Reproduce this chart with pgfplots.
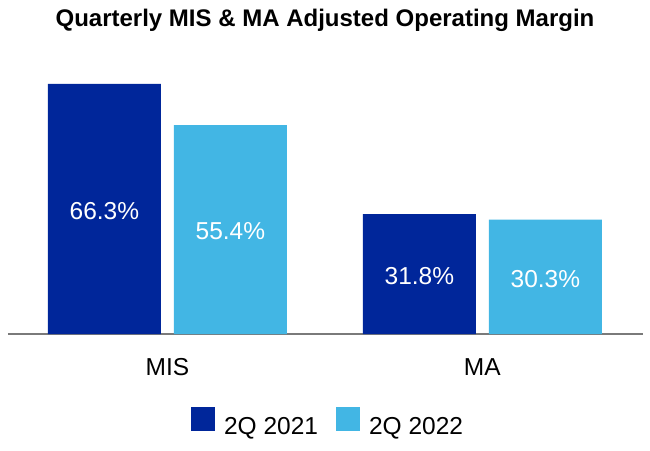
\documentclass[border=0pt]{standalone}
\usepackage{fontspec}
\setmainfont{Liberation Sans}
\usepackage{pgfplots}
\pgfplotsset{compat=1.18}
\definecolor{darkblue}{HTML}{00269A}
\definecolor{lightblue}{HTML}{42B6E4}
\definecolor{axisgray}{HTML}{7A7A7A}
\newcommand{\bigfont}{\fontsize{24.5}{29}\selectfont}
\begin{document}
\begin{tikzpicture}
\path[use as bounding box] (-8pt,-116pt) rectangle (642pt,334pt);
\begin{axis}[
  at={(0pt,0pt)}, anchor=south west,
  scale only axis, width=635pt, height=264pt,
  xmin=-0.506, xmax=1.51, ymin=0, ymax=70,
  ybar=13pt, bar width=113pt,
  axis x line=bottom, axis y line=none,
  x axis line style={-, draw=axisgray, line width=1.6pt},
  xtick={0,1}, xticklabels={MIS,MA}, major tick length=0pt,
  xticklabel style={font=\bigfont, yshift=-21pt},
  visualization depends on={rawy \as \rawy},
  nodes near coords={\pgfmathprintnumber[fixed,fixed zerofill,precision=1,assume math mode=true]{\pgfplotspointmeta}\%},
  nodes near coords style={font=\bigfont, text=white, anchor=center, yshift={-1.8857*\rawy-2}},
  legend style={at={(0.504,-0.335)}, anchor=center, draw=none, fill=none, legend columns=-1, font=\bigfont,
    /tikz/every odd column/.append style={column sep=7pt},
    /tikz/every even column/.append style={column sep=16pt}},
  legend image code/.code={\fill[#1] (0pt,-5pt) rectangle (24pt,19pt);},
]
\addplot[fill=darkblue, draw=none] coordinates {(0,66.3) (1,31.8)};
\addplot[fill=lightblue, draw=none] coordinates {(0,55.4) (1,30.3)};
\legend{2Q 2021, 2Q 2022}
\end{axis}
\node[font=\bfseries\fontsize{24}{29}\selectfont, anchor=base] at (317pt,307pt) {Quarterly MIS \& MA Adjusted Operating Margin};
\end{tikzpicture}
\end{document}
